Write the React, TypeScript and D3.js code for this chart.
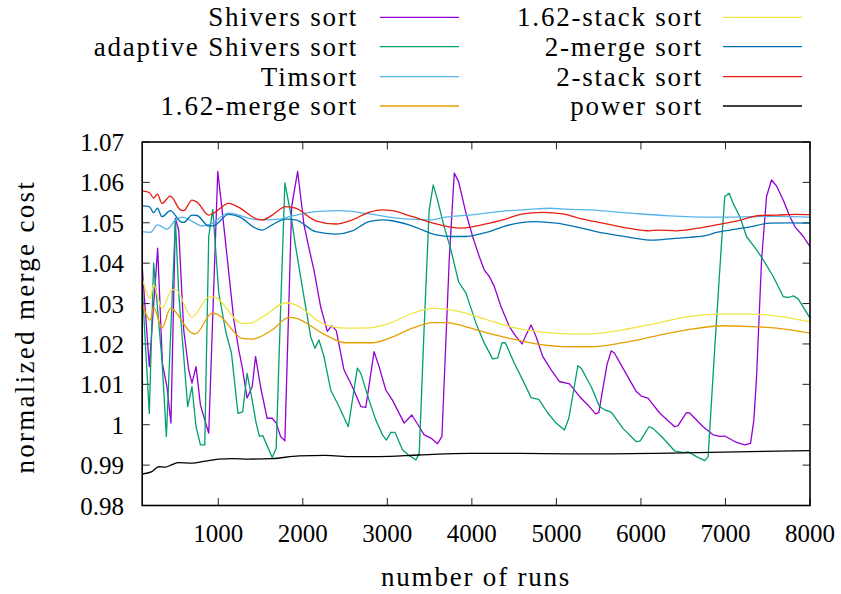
import React from "react";
import * as d3 from "d3";

type Pt = [number, number];

const shiversSort: Pt[] = [[100,1.0391],[184,1.0144],[283,1.0437],[339,1.0152],[393,1.0094],[440,1.0004],[493,1.0511],[532,1.0482],[591,1.0235],[650,1.0136],[689,1.0103],[737,1.0144],[789,1.0049],[840,1.0012],[887,0.9979],[994,1.0627],[1045,1.0532],[1184,1.0259],[1243,1.0185],[1282,1.0144],[1341,1.0066],[1401,1.0094],[1441,1.0169],[1500,1.0094],[1578,1.0016],[1638,1.0016],[1685,1.0004],[1737,0.9971],[1788,0.9960],[1868,1.0540],[1939,1.0627],[2014,1.0495],[2073,1.0437],[2132,1.0383],[2211,1.0292],[2290,1.0231],[2342,1.0245],[2396,1.0233],[2487,1.0136],[2586,1.0094],[2686,1.0045],[2745,1.0043],[2843,1.0181],[2902,1.0144],[2982,1.0086],[3060,1.0061],[3199,1.0004],[3290,1.0024],[3377,0.9995],[3436,0.9975],[3515,0.9967],[3594,0.9953],[3646,0.9971],[3732,1.0408],[3792,1.0623],[3843,1.0602],[3930,1.0524],[4009,1.0466],[4088,1.0416],[4147,1.0383],[4207,1.0367],[4266,1.0342],[4345,1.0292],[4443,1.0243],[4523,1.0218],[4594,1.0200],[4641,1.0222],[4701,1.0247],[4760,1.0218],[4838,1.0169],[4938,1.0136],[5036,1.0107],[5155,1.0101],[5273,1.0070],[5372,1.0049],[5463,1.0027],[5502,1.0030],[5550,1.0090],[5600,1.0150],[5649,1.0183],[5688,1.0177],[5787,1.0140],[5945,1.0082],[6004,1.0071],[6083,1.0066],[6221,1.0029],[6399,0.9995],[6439,0.9998],[6538,1.0030],[6577,1.0029],[6735,0.9995],[6854,0.9975],[6933,0.9971],[6992,0.9972],[7131,0.9956],[7229,0.9950],[7297,0.9954],[7336,1.0012],[7368,1.0119],[7427,1.0408],[7486,1.0565],[7545,1.0606],[7605,1.0591],[7684,1.0556],[7763,1.0515],[7822,1.0490],[7921,1.0466],[8000,1.0441]];

const adaptiveShiversSort: Pt[] = [[100,1.0342],[184,1.0028],[235,1.0400],[334,1.0160],[386,0.9971],[493,1.0508],[532,1.0326],[638,1.0045],[689,1.0094],[737,0.9995],[789,0.9950],[840,0.9950],[887,1.0466],[935,1.0533],[1006,1.0326],[1092,1.0227],[1156,1.0177],[1233,1.0028],[1289,1.0032],[1341,1.0127],[1401,1.0061],[1448,1.0004],[1488,0.9971],[1527,0.9973],[1638,0.9919],[1685,0.9942],[1737,1.0284],[1788,1.0599],[1856,1.0524],[1915,1.0441],[1993,1.0342],[2053,1.0268],[2093,1.0218],[2144,1.0189],[2191,1.0210],[2250,1.0169],[2330,1.0086],[2428,1.0045],[2538,0.9995],[2645,1.0140],[2686,1.0127],[2784,1.0061],[2863,1.0012],[2942,0.9975],[2989,0.9962],[3041,0.9981],[3092,0.9981],[3179,0.9938],[3250,0.9925],[3338,0.9913],[3377,0.9929],[3436,1.0243],[3495,1.0532],[3543,1.0594],[3594,1.0556],[3673,1.0490],[3752,1.0433],[3843,1.0354],[3930,1.0326],[3970,1.0301],[4049,1.0251],[4147,1.0202],[4246,1.0163],[4305,1.0165],[4357,1.0203],[4396,1.0203],[4502,1.0152],[4601,1.0111],[4701,1.0067],[4791,1.0063],[4898,1.0029],[4997,1.0004],[5095,0.9987],[5147,1.0016],[5254,1.0146],[5293,1.0140],[5412,1.0094],[5510,1.0045],[5570,1.0037],[5649,1.0031],[5787,0.9991],[5945,0.9958],[5992,0.9960],[6095,0.9995],[6142,0.9991],[6261,0.9967],[6399,0.9935],[6498,0.9931],[6557,0.9933],[6657,0.9921],[6755,0.9911],[6795,0.9921],[6874,1.0193],[6953,1.0449],[6992,1.0565],[7044,1.0573],[7091,1.0548],[7170,1.0515],[7249,1.0466],[7368,1.0433],[7447,1.0408],[7565,1.0367],[7684,1.0317],[7743,1.0315],[7803,1.0319],[7862,1.0311],[8000,1.0264]];

const timsort: Pt[] = [[100,1.0478],[196,1.0476],[283,1.0495],[393,1.0484],[493,1.0507],[571,1.0514],[730,1.0499],[808,1.0492],[908,1.0497],[1124,1.0524],[1243,1.0519],[1401,1.0509],[1560,1.0507],[1717,1.0509],[1875,1.0517],[1993,1.0522],[2191,1.0528],[2428,1.0530],[2784,1.0522],[3021,1.0514],[3259,1.0509],[3496,1.0507],[3693,1.0514],[3970,1.0519],[4207,1.0525],[4443,1.0530],[4680,1.0533],[4917,1.0536],[5155,1.0533],[5392,1.0532],[5866,1.0524],[6340,1.0517],[6814,1.0514],[7052,1.0514],[7289,1.0515],[7605,1.0516],[8000,1.0514]];

const mergeSort162: Pt[] = [[100,1.0301],[196,1.0259],[235,1.0292],[334,1.0239],[433,1.0288],[689,1.0227],[730,1.0225],[927,1.0276],[986,1.0274],[1282,1.0214],[1401,1.0212],[1638,1.0235],[1836,1.0266],[1915,1.0264],[2270,1.0222],[2507,1.0203],[2823,1.0203],[3021,1.0214],[3297,1.0239],[3535,1.0253],[3693,1.0253],[3890,1.0245],[4167,1.0228],[4443,1.0214],[4760,1.0200],[5155,1.0193],[5392,1.0193],[5787,1.0203],[6182,1.0220],[6577,1.0236],[6973,1.0245],[7289,1.0243],[7605,1.0239],[8000,1.0227]];

const stackSort162: Pt[] = [[100,1.0363],[196,1.0313],[235,1.0346],[334,1.0288],[452,1.0334],[493,1.0335],[689,1.0266],[887,1.0316],[947,1.0316],[1282,1.0251],[1362,1.0251],[1560,1.0272],[1797,1.0302],[1915,1.0297],[2230,1.0251],[2507,1.0239],[2784,1.0240],[3021,1.0251],[3297,1.0276],[3535,1.0288],[3693,1.0286],[3890,1.0278],[4167,1.0261],[4443,1.0243],[4760,1.0231],[5155,1.0225],[5392,1.0225],[5787,1.0235],[6182,1.0251],[6577,1.0268],[6973,1.0274],[7289,1.0274],[7605,1.0269],[8000,1.0255]];

const twoMergeSort: Pt[] = [[100,1.0542],[184,1.0540],[235,1.0525],[280,1.0536],[334,1.0515],[433,1.0530],[552,1.0503],[591,1.0501],[689,1.0519],[749,1.0518],[887,1.0492],[947,1.0493],[1124,1.0521],[1243,1.0515],[1460,1.0485],[1519,1.0482],[1638,1.0495],[1797,1.0509],[1915,1.0507],[2152,1.0478],[2389,1.0472],[2586,1.0480],[2784,1.0503],[2942,1.0507],[3060,1.0505],[3297,1.0492],[3575,1.0470],[3772,1.0466],[3930,1.0466],[4088,1.0472],[4207,1.0478],[4364,1.0490],[4562,1.0500],[4760,1.0503],[4997,1.0499],[5234,1.0490],[5471,1.0478],[5629,1.0472],[5866,1.0464],[6142,1.0457],[6379,1.0461],[6577,1.0464],[6775,1.0469],[6894,1.0476],[7052,1.0482],[7289,1.0490],[7526,1.0499],[7763,1.0500],[8000,1.0499]];

const twoStackSort: Pt[] = [[100,1.0579],[184,1.0575],[235,1.0561],[280,1.0571],[334,1.0548],[433,1.0566],[552,1.0532],[591,1.0530],[689,1.0556],[749,1.0551],[887,1.0519],[947,1.0524],[1124,1.0548],[1243,1.0538],[1460,1.0509],[1519,1.0507],[1638,1.0519],[1797,1.0540],[1915,1.0536],[2152,1.0505],[2389,1.0497],[2586,1.0507],[2784,1.0526],[2942,1.0532],[3060,1.0530],[3297,1.0515],[3575,1.0497],[3732,1.0490],[3851,1.0487],[4009,1.0490],[4167,1.0497],[4364,1.0507],[4601,1.0522],[4838,1.0526],[5075,1.0522],[5312,1.0509],[5550,1.0499],[5866,1.0486],[6103,1.0480],[6182,1.0482],[6419,1.0480],[6657,1.0486],[6894,1.0495],[7131,1.0504],[7407,1.0518],[7605,1.0519],[7842,1.0521],[8000,1.0520]];

const powerSort: Pt[] = [[100,0.9878],[215,0.9884],[295,0.9896],[374,0.9895],[452,0.9901],[532,0.9906],[689,0.9905],[848,0.9910],[1006,0.9915],[1164,0.9916],[1362,0.9915],[1638,0.9916],[1954,0.9923],[2270,0.9924],[2586,0.9921],[2902,0.9921],[3377,0.9925],[3970,0.9929],[4562,0.9929],[5155,0.9928],[5629,0.9928],[6182,0.9929],[6973,0.9932],[8000,0.9936]];

const xTicks = [1000, 2000, 3000, 4000, 5000, 6000, 7000, 8000];
const yTicks = [0.98, 0.99, 1.0, 1.01, 1.02, 1.03, 1.04, 1.05, 1.06, 1.07];
const yTickLabels = ["0.98", "0.99", "1", "1.01", "1.02", "1.03", "1.04", "1.05", "1.06", "1.07"];

const seriesNames = ["Shivers sort", "adaptive Shivers sort", "Timsort", "1.62-merge sort", "1.62-stack sort", "2-merge sort", "2-stack sort", "power sort"];
const seriesColors = ["#9400d3", "#009e73", "#56b4e9", "#e69f00", "#f0e442", "#0072b2", "#e51e10", "#000000"];
const seriesData = [shiversSort, adaptiveShiversSort, timsort, mergeSort162, stackSort162, twoMergeSort, twoStackSort, powerSort];
const smoothFlags = [false, false, true, true, true, true, true, true];

const W = 841, H = 594;
const L = 142.2, R = 810, T = 142, B = 505.5;
const FONT = '"Liberation Serif", Tinos, "Times New Roman", "DejaVu Serif", serif';
const NUM: React.CSSProperties = { fontFamily: FONT, fontSize: "25px" };
const WORD: React.CSSProperties = { fontFamily: FONT, fontSize: "27px", letterSpacing: "1.8px" };

export default function App() {
  const x = d3.scaleLinear().domain([100, 8000]).range([L, R]);
  const y = d3.scaleLinear().domain([0.98, 1.07]).range([B, T]);
  const tickLen = 7.5;

  const lines = seriesData.map((d, i) => {
    const gen = d3.line<Pt>().x(p => x(p[0])).y(p => y(p[1]))
      .curve(smoothFlags[i] ? d3.curveMonotoneX : d3.curveLinear);
    return gen(d) || "";
  });

  const legendRows = [17.3, 46.7, 76.7, 106];

  return (
    <svg width={W} height={H} style={{ position: "absolute", left: 0, top: 0, background: "#fff" }}>
      <rect x={0} y={0} width={W} height={H} fill="#fff" />
      <defs>
        <clipPath id="plotclip">
          <rect x={L} y={T} width={R - L} height={B - T} />
        </clipPath>
      </defs>
      <g stroke="#222" strokeWidth={1}>
        {yTicks.map(t => (
          <g key={"yt" + t}>
            <line x1={L} x2={L + tickLen} y1={y(t)} y2={y(t)} />
            <line x1={R} x2={R - tickLen} y1={y(t)} y2={y(t)} />
          </g>
        ))}
        {xTicks.map(t => (
          <g key={"xt" + t}>
            <line x1={x(t)} x2={x(t)} y1={B} y2={B - tickLen} />
            <line x1={x(t)} x2={x(t)} y1={T} y2={T + tickLen} />
          </g>
        ))}
      </g>
      <g clipPath="url(#plotclip)" fill="none" strokeLinejoin="round">
        {lines.map((p, i) => (
          <path key={seriesNames[i]} d={p} stroke={seriesColors[i]} strokeWidth={1.3} />
        ))}
      </g>
      <rect x={L} y={T} width={R - L} height={B - T} fill="none" stroke="#000" strokeWidth={1.6} />
      <g fill="#000">
        {yTicks.map((t, i) => (
          <text key={"yl" + t} x={124} y={y(t) + 9} textAnchor="end" style={NUM}>{yTickLabels[i]}</text>
        ))}
        {xTicks.map(t => (
          <text key={"xl" + t} x={x(t)} y={542} textAnchor="middle" style={NUM}>{t}</text>
        ))}
      </g>
      <text x={(L + R) / 2} y={586} textAnchor="middle" style={WORD}>number of runs</text>
      <text transform={`translate(34, ${(T + B) / 2 + 3}) rotate(-90)`} textAnchor="middle" style={{ ...WORD, letterSpacing: "2.3px" }}>normalized merge cost</text>
      <g>
        {seriesNames.map((n, i) => {
          const col = i < 4 ? 0 : 1;
          const row = i % 4;
          const tx = col === 0 ? 358 : 703;
          const lx1 = col === 0 ? 380 : 723;
          const lx2 = col === 0 ? 459 : 802;
          const ly = legendRows[row];
          return (
            <g key={"lg" + n}>
              <text x={tx} y={ly + 9} textAnchor="end" style={WORD}>{n}</text>
              <line x1={lx1} x2={lx2} y1={ly} y2={ly} stroke={seriesColors[i]} strokeWidth={1.3} />
            </g>
          );
        })}
      </g>
    </svg>
  );
}
